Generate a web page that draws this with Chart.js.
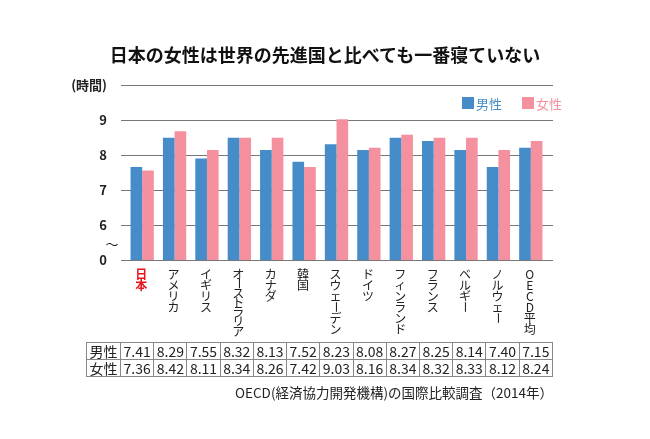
<!DOCTYPE html>
<html>
<head>
<meta charset="utf-8">
<script src="https://cdn.jsdelivr.net/npm/chart.js@4"></script>
<style>
body { margin:0; background:#fff; }
#wrap { position:relative; width:650px; height:439px; font-family:'Noto Sans CJK JP',sans-serif; }
#title { position:absolute; left:0; top:40px; width:650px; text-align:center; font-size:18px; font-weight:bold; color:#111; line-height:28px; }
#src { position:absolute; right:97px; top:382px; font-size:13.5px; color:#222; }
table { position:absolute; left:86px; top:342px; width:467px; border-collapse:collapse; table-layout:fixed; font-size:14px; color:#222; }
td { border:1px solid #888; height:16px; padding:0; text-align:center; line-height:16px; }
</style>
</head>
<body>
<div id="wrap">
<canvas id="myChart" width="650" height="439"></canvas>
<div id="title">日本の女性は世界の先進国と比べても一番寝ていない</div>
<table id="tbl"></table>
<div id="src">OECD(経済協力開発機構)の国際比較調査（2014年）</div>
</div>
<script>
Chart.defaults.font.family = "'Noto Sans CJK JP', sans-serif";

var categories = ["日本", "アメリカ", "イギリス", "オーストラリア", "カナダ", "韓国", "スウェーデン", "ドイツ", "フィンランド", "フランス", "ベルギー", "ノルウェー", "OECD平均"];
// values printed in the table (hours.minutes)
var menTable = ["7.41", "8.29", "7.55", "8.32", "8.13", "7.52", "8.23", "8.08", "8.27", "8.25", "8.14", "7.40", "7.15"];
var womenTable = ["7.36", "8.42", "8.11", "8.34", "8.26", "7.42", "9.03", "8.16", "8.34", "8.32", "8.33", "8.12", "8.24"];
// bar heights (hours)
var menBars = [7.66, 8.49, 7.90, 8.49, 8.14, 7.81, 8.31, 8.14, 8.49, 8.40, 8.14, 7.66, 8.21];
var womenBars = [7.56, 8.68, 8.14, 8.49, 8.49, 7.66, 9.02, 8.21, 8.58, 8.49, 8.49, 8.14, 8.40];
var yTicks = [5, 6, 7, 8, 9, 10];
var yTickLabels = ["0", "6", "7", "8", "9", "(時間)"];
var seriesNames = ["男性", "女性"];
var colors = ["#468cc8", "#f5909f"];

// table
var tbl = document.getElementById("tbl");
var rows = [[seriesNames[0]].concat(menTable), [seriesNames[1]].concat(womenTable)];
rows.forEach(function(r){
  var tr = document.createElement("tr");
  r.forEach(function(v, i){
    var td = document.createElement("td");
    td.textContent = v;
    if (i == 0) td.style.width = "33px";
    tr.appendChild(td);
  });
  tbl.appendChild(tr);
});

var extras = {
  id: "extras",
  beforeDatasetsDraw: function(chart){
    var ctx = chart.ctx, y = chart.scales.y;
    ctx.save();
    ctx.strokeStyle = "#777";
    ctx.lineWidth = 1;
    yTicks.forEach(function(v){
      var py = Math.round(y.getPixelForValue(v)) + 0.5;
      ctx.beginPath(); ctx.moveTo(121, py); ctx.lineTo(553, py); ctx.stroke();
    });
    ctx.restore();
  },
  afterDraw: function(chart){
    var ctx = chart.ctx, x = chart.scales.x;
    ctx.save();
    // axis break mark
    ctx.fillStyle = "#222";
    ctx.font = "13px 'Noto Sans CJK JP'";
    ctx.textAlign = "center"; ctx.textBaseline = "middle";
    ctx.fillText("〜", 112, 244);
    // vertical category labels
    categories.forEach(function(c, i){
      var cx = x.getPixelForValue(i) - 1;
      var chars = Array.from(c);
      var step = Math.min(11, 67 / chars.length);
      ctx.fillStyle = i == 0 ? "#e8141c" : "#222";
      ctx.font = (i == 0 ? "bold " : "") + "12px 'Noto Sans CJK JP'";
      chars.forEach(function(ch, k){
        var cy = 274 + k * step;
        if (ch == "ー") {
          ctx.save(); ctx.translate(cx, cy); ctx.rotate(Math.PI / 2);
          ctx.fillText(ch, 0, 0); ctx.restore();
        } else {
          ctx.fillText(ch, cx, cy);
        }
      });
    });
    // legend
    ctx.font = "13px 'Noto Sans CJK JP'";
    ctx.textAlign = "left";
    var lx = [462, 522];
    seriesNames.forEach(function(n, i){
      ctx.fillStyle = colors[i];
      ctx.fillRect(lx[i], 97, 12, 12);
      ctx.fillText(n, lx[i] + 14, 104);
    });
    ctx.restore();
  }
};

var barClip = { left: 0, top: false, right: 0, bottom: 0 };

new Chart("myChart", {
  type: "bar",
  data: {
    labels: categories,
    datasets: [
      { label: seriesNames[0], data: menBars, backgroundColor: colors[0], categoryPercentage: 0.72, barPercentage: 1.0, clip: barClip },
      { label: seriesNames[1], data: womenBars, backgroundColor: colors[1], categoryPercentage: 0.72, barPercentage: 1.0, clip: barClip }
    ]
  },
  options: {
    responsive: false,
    animation: false,
    layout: { padding: { top: 85, right: 103, bottom: 179, left: 0 } },
    plugins: { legend: { display: false }, tooltip: { enabled: false } },
    scales: {
      x: { display: false },
      y: {
        min: 5, max: 10,
        grid: { display: false },
        border: { display: false },
        afterFit: function(s){ s.width = 126; },
        afterBuildTicks: function(s){ s.ticks = yTicks.map(function(v){ return { value: v }; }); },
        ticks: {
          padding: 11,
          color: "#222",
          font: { size: 13, weight: "bold" },
          callback: function(v){ return yTickLabels[yTicks.indexOf(v)]; }
        }
      }
    }
  },
  plugins: [extras]
});
</script>
</body>
</html>
